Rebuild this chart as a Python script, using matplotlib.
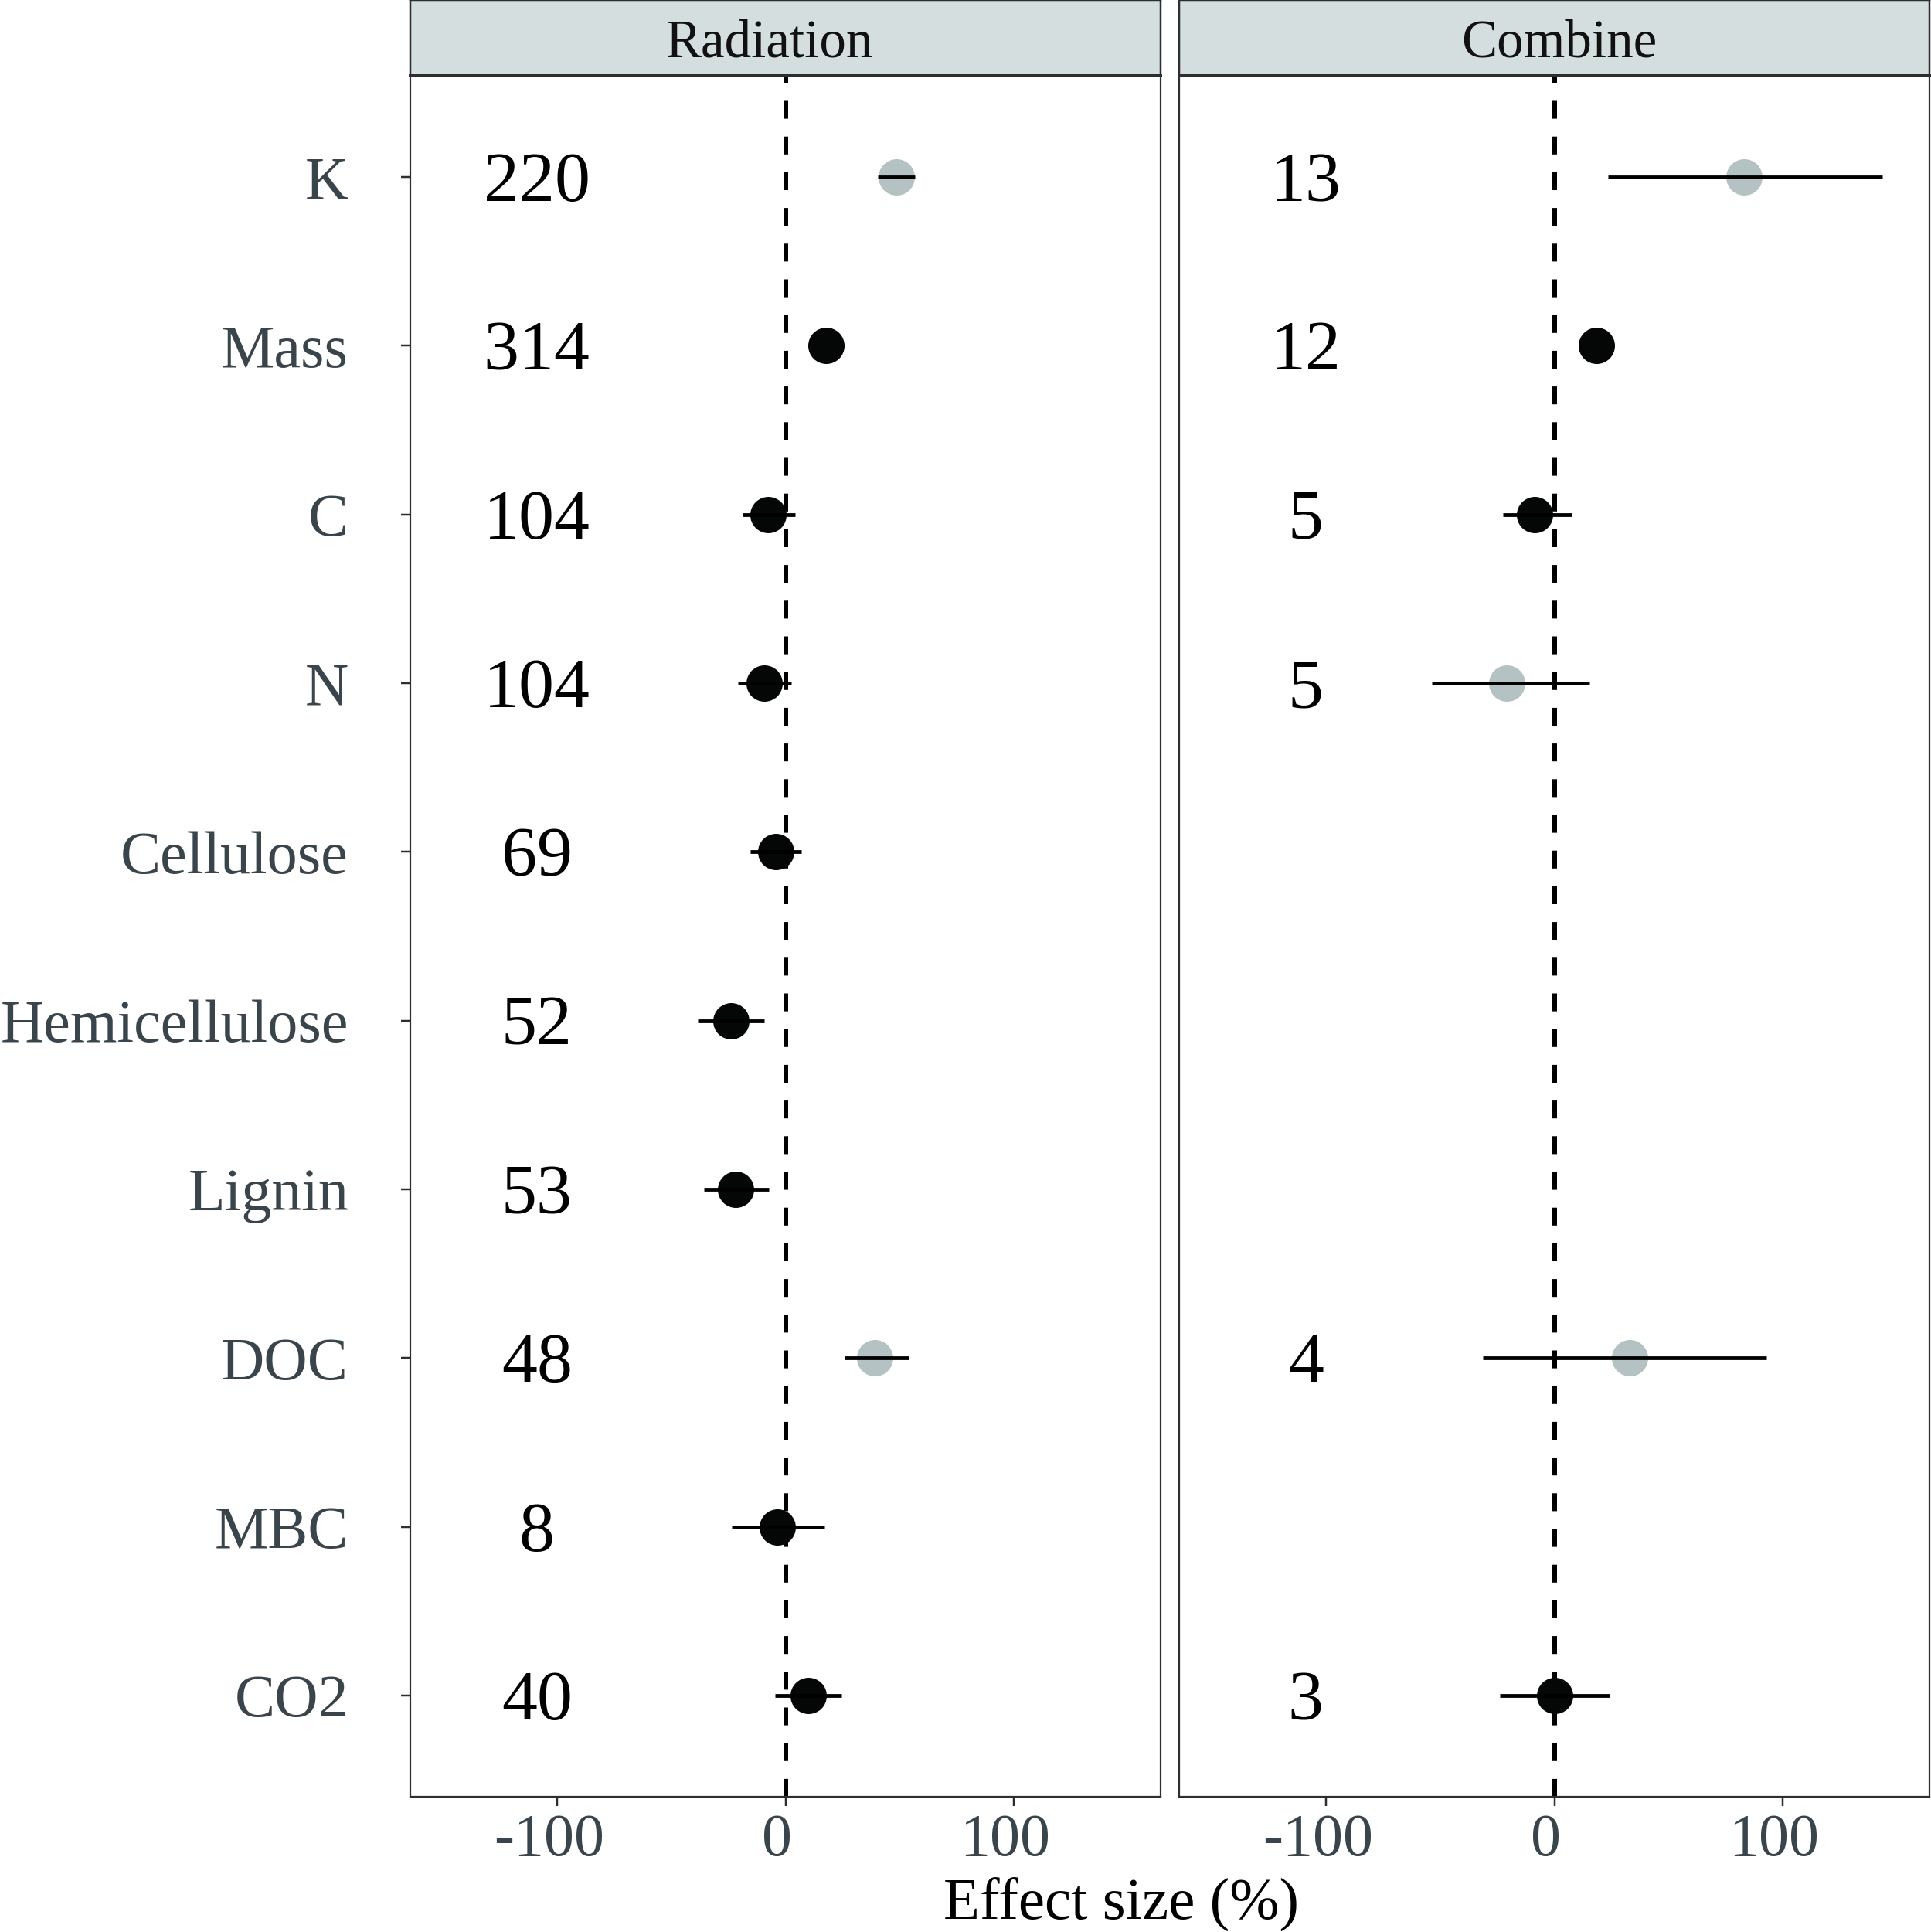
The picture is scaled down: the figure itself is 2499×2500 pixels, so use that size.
import numpy as np
import matplotlib
matplotlib.use("Agg")
import matplotlib.pyplot as plt
import matplotlib.transforms as mtransforms

plt.rcParams['font.family'] = ['Liberation Serif', 'DejaVu Serif']

# ---------------- data ----------------
categories = ["K", "Mass", "C", "N", "Cellulose", "Hemicellulose", "Lignin", "DOC", "MBC", "CO2"]
panels = ["Radiation", "Combine"]

rad_mean = [48.5, 17.9, -7.5, -9.3, -4.3, -23.9, -21.7, 39.3, -3.7, 10.0]
rad_low = [40.6, np.nan, -18.8, -20.8, -15.5, -38.4, -35.8, 26.0, -23.5, -4.7]
rad_high = [56.9, np.nan, 4.1, 2.4, 7.0, -9.3, -7.3, 54.0, 17.1, 24.7]
rad_n = [220, 314, 104, 104, 69, 52, 53, 48, 8, 40]
rad_sig = [False, True, True, True, True, True, True, False, True, True]

com_mean = [83.2, 18.5, -8.7, -20.8, np.nan, np.nan, np.nan, 33.0, np.nan, 0.1]
com_low = [23.5, np.nan, -22.7, -53.6, np.nan, np.nan, np.nan, -31.5, np.nan, -24.0]
com_high = [143.8, np.nan, 7.6, 15.3, np.nan, np.nan, np.nan, 93.0, np.nan, 24.2]
com_n = [13, 12, 5, 5, None, None, None, 4, None, 3]
com_sig = [False, True, True, False, None, None, None, False, None, True]

xticks = [-100, 0, 100]
xlim = (-164.5, 164.5)
count_x = -109
xlabel = "Effect size (%)"

# ---------------- style ----------------
W, H = 2499, 2500
DPI = 100
fig = plt.figure(figsize=(W / DPI, H / DPI), dpi=DPI)

PX = 72.0 / DPI  # points per pixel
col_sig = "#050707"
col_ns = "#B4C2C3"
col_tick = "#3A454B"
col_spine = "#2B2F31"
strip_fill = "#D4DEDE"

ax_bottom = 1 - 2325 / H
ax_top = 1 - 98 / H
ax_h = ax_top - ax_bottom
lefts = [531 / W, 1526 / W]
width = 971 / W
title_x = [0.478, 0.506]

ypos = np.arange(len(categories), 0, -1)  # K at top

datasets = [
    (rad_mean, rad_low, rad_high, rad_n, rad_sig),
    (com_mean, com_low, com_high, com_n, com_sig),
]

for i, (title, (mean, low, high, ns, sig)) in enumerate(zip(panels, datasets)):
    ax = fig.add_axes([lefts[i], ax_bottom, width, ax_h])
    ax.set_xlim(*xlim)
    ax.set_ylim(0.4, len(categories) + 0.6)
    ax.axvline(0, color="black", lw=6 * PX, linestyle=(0, (3.85, 3.85)), zorder=1)

    for j, y in enumerate(ypos):
        m = mean[j]
        if m is None or np.isnan(m):
            continue
        c = col_sig if sig[j] else col_ns
        ax.plot([m], [y], marker="o", markersize=47 * PX, color=c,
                markeredgewidth=0, linestyle="none", zorder=3)
        if not np.isnan(low[j]):
            ax.plot([low[j], high[j]], [y, y], color="black", lw=4.8 * PX,
                    solid_capstyle="butt", zorder=4)

    off = mtransforms.offset_copy(ax.transData, fig=fig, y=-31 * PX, units="points")
    for j, y in enumerate(ypos):
        if ns[j] is None:
            continue
        ax.text(count_x, y, str(ns[j]), transform=off, ha="center", va="baseline",
                fontsize=92 * PX, color="black", zorder=5)

    ax.set_xticks(xticks)
    ax.set_xticklabels([str(t) for t in xticks])
    ax.set_yticks(ypos)
    if i == 0:
        ax.set_yticklabels(categories)
        ax.tick_params(axis="y", length=12 * PX, width=2.5 * PX, color=col_spine,
                       labelsize=78 * PX, labelcolor=col_tick, pad=68 * PX)
    else:
        ax.set_yticklabels([])
        ax.tick_params(axis="y", length=0)
    ax.tick_params(axis="x", length=12 * PX, width=2.5 * PX, color=col_spine,
                   labelsize=78 * PX, labelcolor=col_tick, pad=9 * PX)
    shift = mtransforms.ScaledTranslation(-11 / DPI, 0, fig.dpi_scale_trans)
    for tk in ax.xaxis.get_major_ticks():
        tk.label1.set_transform(tk.label1.get_transform() + shift)
    for sp in ax.spines.values():
        sp.set_color(col_spine)
        sp.set_linewidth(2.2 * PX)

    # facet strip
    sax = fig.add_axes([lefts[i], ax_top, width, 1 - ax_top])
    sax.set_facecolor(strip_fill)
    sax.set_xticks([])
    sax.set_yticks([])
    for name, sp in sax.spines.items():
        sp.set_color(col_spine)
        sp.set_linewidth((4.0 if name == "bottom" else 2.5) * PX)
    sax.text(title_x[i], 24 / 98, title, transform=sax.transAxes, ha="center",
             va="baseline", fontsize=69 * PX, color="#111111")

fig.text(1451 / W, 1 - 2430 / H, xlabel, ha="center", va="top",
         fontsize=77 * PX, color="black")

fig.savefig("out.png", dpi=DPI, facecolor="white")
